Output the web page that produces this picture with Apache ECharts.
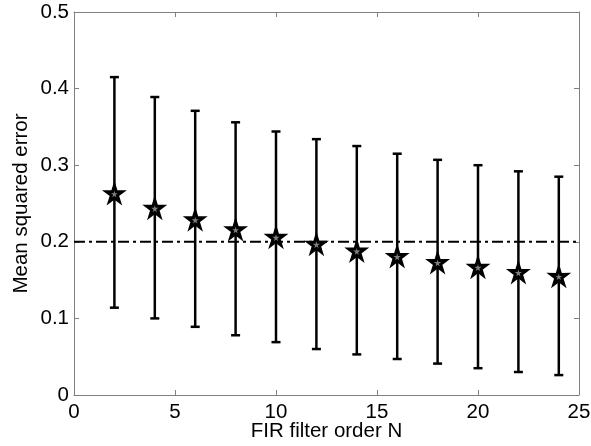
<!DOCTYPE html>
<html>
<head>
<meta charset="utf-8">
<script src="https://cdn.jsdelivr.net/npm/echarts@6/dist/echarts.min.js"></script>
<style>
  html, body { margin: 0; padding: 0; background: #fff; }
  #chart { width: 591px; height: 446px; }
</style>
</head>
<body>
<div id="chart"></div>
<script>
// Filter orders and the error statistics at each order
const orders = [2, 4, 6, 8, 10, 12, 14, 16, 18, 20, 22, 24];
const meanErr = [0.263, 0.244, 0.229, 0.216, 0.206, 0.197, 0.188, 0.181, 0.173, 0.167, 0.160, 0.155];
const upperErr = [0.415, 0.389, 0.371, 0.356, 0.344, 0.334, 0.325, 0.315, 0.307, 0.300, 0.292, 0.285];
const lowerErr = [0.114, 0.100, 0.089, 0.078, 0.069, 0.060, 0.053, 0.047, 0.041, 0.035, 0.030, 0.026];
// Reference level drawn as a dash-dot line
const refX = [0, 25];
const refLevel = [0.2, 0.2];
// Axis ticks
const xTicks = [0, 5, 10, 15, 20, 25];
const yTicks = [0, 0.1, 0.2, 0.3, 0.4, 0.5];

const FONT = "'Liberation Sans', Arial, Helvetica, sans-serif";
const FONT_SIZE = 20.5;
const AXIS_GREY = '#808080';
const starPath = 'path://M50 0 L61.17 34.63 L97.55 34.55 L68.07 55.87 L79.39 90.45 L50 69 L20.61 90.45 L31.93 55.87 L2.45 34.55 L38.83 34.63 Z';

const chart = echarts.init(document.getElementById('chart'), null, { renderer: 'canvas' });

const baseAxis = {
  type: 'value',
  axisLine: { show: true, onZero: false, lineStyle: { color: AXIS_GREY, width: 1 } },
  axisTick: { show: true, inside: true, length: 5, lineStyle: { color: AXIS_GREY } },
  splitLine: { show: false }
};

const option = {
  animation: false,
  backgroundColor: '#fff',
  grid: { left: 74, right: 12, top: 12, bottom: 51, containLabel: false, outerBoundsMode: 'none' },
  xAxis: [
    Object.assign({}, baseAxis, {
      min: xTicks[0], max: xTicks[xTicks.length - 1], interval: 5,
      position: 'bottom',
      name: 'FIR filter order N', nameLocation: 'middle', nameGap: 26, nameMoveOverlap: false,
      nameTextStyle: { fontFamily: FONT, fontSize: FONT_SIZE, color: '#000' },
      axisLabel: { fontFamily: FONT, fontSize: FONT_SIZE, color: '#000', margin: 7 }
    }),
    Object.assign({}, baseAxis, {
      min: xTicks[0], max: xTicks[xTicks.length - 1], interval: 5,
      position: 'top', axisLabel: { show: false }
    })
  ],
  yAxis: [
    Object.assign({}, baseAxis, {
      min: yTicks[0], max: yTicks[yTicks.length - 1], interval: 0.1,
      position: 'left',
      name: 'Mean squared error', nameLocation: 'middle', nameGap: 42, nameMoveOverlap: false,
      nameTextStyle: { fontFamily: FONT, fontSize: FONT_SIZE, color: '#000' },
      axisLabel: { fontFamily: FONT, fontSize: FONT_SIZE, color: '#000', margin: 5 }
    }),
    Object.assign({}, baseAxis, {
      min: yTicks[0], max: yTicks[yTicks.length - 1], interval: 0.1,
      position: 'right', axisLabel: { show: false }
    })
  ],
  series: [
    {
      type: 'line',
      data: refX.map((x, i) => [x, refLevel[i]]),
      symbol: 'none',
      lineStyle: { color: '#000', width: 2, type: [11, 4, 3, 4] },
      z: 1
    },
    {
      type: 'custom',
      data: orders.map((x, i) => [x, lowerErr[i], upperErr[i]]),
      renderItem: function (params, api) {
        const x = api.value(0);
        const lo = api.coord([x, api.value(1)]);
        const hi = api.coord([x, api.value(2)]);
        const half = 4.5;
        const style = { stroke: '#000', lineWidth: 2.5 };
        return {
          type: 'group',
          children: [
            { type: 'line', shape: { x1: lo[0], y1: lo[1], x2: hi[0], y2: hi[1] }, style: style },
            { type: 'line', shape: { x1: hi[0] - half, y1: hi[1], x2: hi[0] + half, y2: hi[1] }, style: style },
            { type: 'line', shape: { x1: lo[0] - half, y1: lo[1], x2: lo[0] + half, y2: lo[1] }, style: style }
          ]
        };
      },
      encode: { x: 0, y: [1, 2] },
      z: 2
    },
    {
      type: 'scatter',
      data: orders.map((x, i) => [x, meanErr[i]]),
      symbol: starPath,
      symbolSize: 16,
      itemStyle: { color: '#808080', borderColor: '#000', borderWidth: 3, opacity: 1 },
      z: 3
    }
  ]
};

chart.setOption(option);
</script>
</body>
</html>
